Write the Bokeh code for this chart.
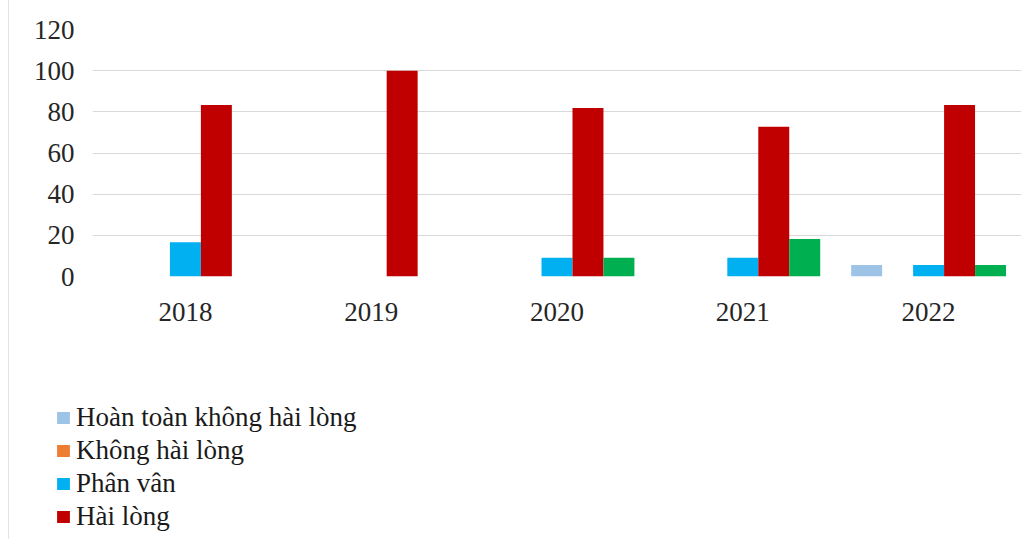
from bokeh.plotting import figure
from bokeh.models import ColumnDataSource, Range1d, Legend, LegendItem
from bokeh.transform import dodge
from bokeh.embed import file_html
from bokeh.resources import INLINE

years = ["2018", "2019", "2020", "2021", "2022"]
series_names = ["Hoàn toàn không hài lòng", "Không hài lòng", "Phân vân", "Hài lòng", "Hoàn toàn hài lòng"]
hoan_toan_khong_hai_long = [0, 0, 0, 0, 5.56]
khong_hai_long = [0, 0, 0, 0, 0]
phan_van = [16.67, 0, 9.09, 9.09, 5.56]
hai_long = [83.33, 100, 81.82, 72.73, 83.33]
hoan_toan_hai_long = [0, 0, 9.09, 18.18, 5.56]
y_ticks = [0, 20, 40, 60, 80, 100, 120]
colors = ["#9DC3E6", "#ED7D31", "#00B0F0", "#C00000", "#00B050"]

series_values = [hoan_toan_khong_hai_long, khong_hai_long, phan_van, hai_long, hoan_toan_hai_long]
keys = ["s0", "s1", "s2", "s3", "s4"]
data = {"year": years}
for k, v in zip(keys, series_values):
    data[k] = v
source = ColumnDataSource(data)

side_style = {"margin-left": "8px", "border-left": "1px solid #e3e3e3"}

# main chart
p = figure(
    x_range=years, y_range=Range1d(0, 120),
    width=1023, height=340, output_backend="svg", toolbar_location=None,
    min_border_left=83, min_border_right=11, min_border_top=29, min_border_bottom=64,
)
p.styles = side_style
p.outline_line_color = None

bar_w = 1.0 / 6.0
for i, (k, c) in enumerate(zip(keys, colors)):
    p.vbar(x=dodge("year", (i - 2) * bar_w, range=p.x_range), top=k, width=bar_w,
           source=source, fill_color=c, line_color=None)

p.xgrid.grid_line_color = None
p.ygrid.grid_line_color = "#d9d9d9"
p.ygrid.grid_line_width = 1.2
p.yaxis.ticker = y_ticks

for ax in (p.xaxis[0], p.yaxis[0]):
    ax.axis_line_color = None
    ax.major_tick_line_color = None
    ax.minor_tick_line_color = None
    ax.major_label_text_font = "Liberation Serif"
    ax.major_label_text_font_size = "27px"
    ax.major_label_text_color = "#262626"
p.yaxis.major_label_standoff = 12
p.xaxis.major_label_standoff = 20

# legend area (same series drawn out of view so the legend shows their swatches)
p2 = figure(
    x_range=years, y_range=Range1d(1000, 1001),
    width=1023, height=199, output_backend="svg", toolbar_location=None,
    x_axis_type=None, y_axis_type=None,
    min_border_left=0, min_border_right=0, min_border_top=0, min_border_bottom=0,
)
p2.styles = side_style
p2.outline_line_color = None
renderers = []
for i, (k, c) in enumerate(zip(keys, colors)):
    r = p2.vbar(x=dodge("year", (i - 2) * bar_w, range=p2.x_range), top=k, width=bar_w,
                source=source, fill_color=c, line_color=None)
    renderers.append(r)

legend = Legend(
    items=[LegendItem(label=n, renderers=[r]) for n, r in zip(series_names, renderers)],
    location=(46, -27), orientation="vertical",
    label_text_font="Liberation Serif", label_text_font_size="27px", label_text_color="#1a1a1a",
    glyph_width=16, glyph_height=15, label_standoff=5, label_height=33, spacing=0,
    padding=0, margin=0, border_line_color=None, background_fill_alpha=0,
)
p2.add_layout(legend, "center")

open("out.html", "w").write(file_html([p, p2], INLINE))
